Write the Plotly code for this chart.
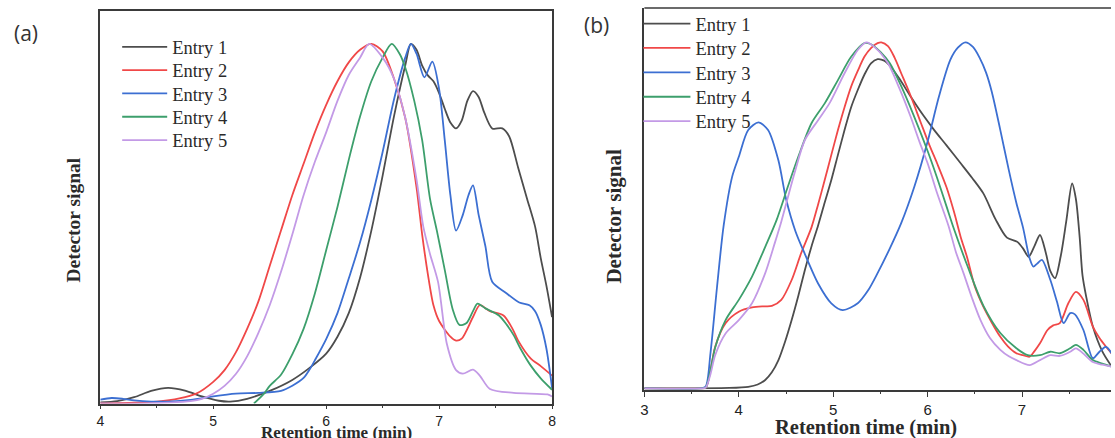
import plotly.graph_objects as go

W, H = 1115, 438

names = ["Entry 1", "Entry 2", "Entry 3", "Entry 4", "Entry 5"]
colors = ["#4d4d4d", "#f04848", "#3c6fd2", "#3d9f6c", "#c39ae6"]

# ---------------- panel (a) ----------------
a1_t = [4.0, 4.15, 4.3, 4.45, 4.6, 4.75, 4.9, 5.05, 5.15, 5.3, 5.5, 5.7, 5.85, 6.0, 6.1, 6.2, 6.3, 6.4, 6.5, 6.6, 6.7,
        6.75, 6.8, 6.85, 6.9, 6.95, 7.0, 7.05, 7.1, 7.15, 7.2, 7.25, 7.3, 7.35, 7.4, 7.47, 7.56, 7.62, 7.7, 7.78, 7.85,
        7.9, 7.95, 8.0]
a1_v = [0.3, 0.6, 1.6, 3.2, 4.0, 3.3, 1.8, 0.7, 0.5, 1.2, 3.2, 6.0, 9.0, 12.7, 17, 23, 32, 44, 58, 73, 86,
        91.5, 90, 86, 83.5, 82, 79, 75, 71.5, 70, 72, 77, 79.5, 78, 74, 70, 70, 68, 60, 52, 45,
        37, 30, 22]

a2_t = [4.0, 4.3, 4.5, 4.7, 4.85, 5.0, 5.1, 5.2, 5.3, 5.4, 5.5, 5.6, 5.7, 5.8, 5.9, 6.0, 6.1, 6.2, 6.3, 6.4, 6.5, 6.6,
        6.7, 6.8, 6.85, 6.9, 6.95, 7.0, 7.1, 7.15, 7.2, 7.3, 7.36, 7.45, 7.57, 7.65, 7.7, 7.81, 7.9, 8.0]
a2_v = [0, 0.2, 0.5, 1.3, 2.5, 5.5, 8.5, 13, 19, 26, 35, 44, 53, 61, 69, 76, 82, 86.8, 90, 91.5, 89.6, 82.7,
        72.7, 55, 43, 33, 25, 21, 17, 16, 16.5, 22, 25, 23.5, 22.4, 19, 16, 11.5, 9.5, 7.1]

a3_t = [4.0, 4.1, 4.2, 4.3, 4.45, 4.6, 4.8, 5.0, 5.2, 5.4, 5.6, 5.7, 5.8, 5.85, 5.9, 6.0, 6.1, 6.2, 6.3, 6.4, 6.5,
        6.6, 6.7, 6.75, 6.8, 6.87, 6.94, 7.0, 7.05, 7.1, 7.15, 7.21, 7.26, 7.3, 7.35, 7.41, 7.47, 7.59, 7.71, 7.8,
        7.85, 7.9, 7.95, 8.0]
a3_v = [1.0, 1.4, 1.2, 0.8, 0.5, 0.5, 0.9, 1.8, 2.5, 2.7, 3.2, 4.5, 6.5, 8.5, 11, 16.4, 23, 31.8, 41, 51.8, 64,
        77.3, 88, 91.5, 89, 83, 87, 80, 67, 53, 44, 48, 53, 55.5, 48, 40, 31, 28.2, 25.7, 25,
        23.5, 20, 14, 4]

a4_t = [5.36, 5.45, 5.5, 5.6, 5.7, 5.8, 5.9, 6.0, 6.1, 6.2, 6.3, 6.4, 6.5, 6.58, 6.65, 6.7, 6.78, 6.85, 6.92, 6.98,
        7.05, 7.12, 7.18, 7.24, 7.3, 7.34, 7.41, 7.53, 7.6, 7.66, 7.72, 7.81, 7.9, 8.0]
a4_v = [0, 2.5, 4.5, 7.3, 12.5, 19, 28, 39, 50, 62, 73, 82, 88, 91.5, 89, 85.5, 77, 67, 52, 44,
        34, 24, 20, 20.4, 23.5, 25.4, 24.2, 22.4, 20, 17.4, 14, 9.7, 6.4, 3.5]

a5_t = [4.0, 4.4, 4.6, 4.8, 4.9, 5.0, 5.1, 5.2, 5.3, 5.4, 5.5, 5.6, 5.7, 5.8, 5.9, 6.0, 6.1, 6.2, 6.3, 6.38, 6.5,
        6.6, 6.7, 6.8, 6.86, 6.92, 6.99, 7.07, 7.15, 7.21, 7.3, 7.36, 7.45, 7.66, 7.96, 8.0]
a5_v = [0, 0, 0.2, 0.6, 1.2, 2.5, 4.5, 7.5, 12, 18, 25, 33.5, 43, 53, 61.5, 69, 77, 83.6, 88, 91.5, 88,
        82.7, 72.7, 57, 45, 38, 31, 15, 8.5, 7.6, 8.6, 7.1, 3.7, 2.7, 2.3, 1.8]

# ---------------- panel (b) ----------------
b1_t = [3.0, 3.5, 3.9, 4.1, 4.2, 4.28, 4.35, 4.42, 4.49, 4.56, 4.63, 4.7, 4.77, 4.84, 4.91, 4.98, 5.05, 5.12, 5.19,
        5.26, 5.33, 5.4, 5.47, 5.54, 5.61, 5.7, 5.82, 5.95, 6.07, 6.2, 6.35, 6.47, 6.59, 6.72, 6.84, 6.95, 7.01, 7.07,
        7.13, 7.19, 7.25, 7.3, 7.35, 7.41, 7.47, 7.53, 7.57, 7.61, 7.64, 7.68, 7.75, 7.85, 7.95]
b1_v = [0.3, 0.3, 0.4, 0.7, 1.3, 2.5, 4.5, 7.7, 12.5, 18.2, 24.5, 31.3, 37.5, 43, 49, 54.9, 61.5, 68, 74,
        78.5, 82.5, 85.5, 86.6, 86.2, 84.6, 81.5, 76.8, 72, 68, 64, 59.3, 55.5, 51.4, 44.6, 39.8, 38.7, 37, 34.8,
        37.5, 40.5, 36, 31, 29.2, 35, 44.4, 54, 50, 40, 30, 24.3, 16.5, 10, 6]

b2_t = [3.0, 3.6, 3.65, 3.7, 3.75, 3.86, 4.0, 4.14, 4.25, 4.35, 4.45, 4.56, 4.66, 4.77, 4.84, 4.91, 4.98, 5.05, 5.12,
        5.19, 5.26, 5.33, 5.4, 5.47, 5.51, 5.58, 5.65, 5.72, 5.82, 5.93, 6.02, 6.1, 6.2, 6.28, 6.35, 6.42, 6.5, 6.59,
        6.68, 6.77, 6.85, 6.94, 7.01, 7.08, 7.13, 7.19, 7.27, 7.33, 7.4, 7.49, 7.57, 7.65, 7.75, 7.82, 7.89, 7.95]
b2_v = [0.3, 0.3, 0.5, 5, 11.2, 17.4, 20.4, 21.5, 21.8, 21.9, 23.5, 28.7, 35.7, 42.5, 48.5, 54.9, 61.5, 68, 74,
        79.4, 83.5, 87.2, 89.5, 90.8, 91, 90, 87, 82.9, 77, 69.8, 64, 59.3, 53, 46.5, 40, 34.5, 27, 21.7,
        17.5, 13.8, 11.3, 9.5, 9, 8.6, 10, 12.1, 15.6, 16.8, 17.4, 22.6, 25.6, 23.5, 16.5, 13.5, 11.2, 9.4]

b3_t = [3.0, 3.6, 3.65, 3.7, 3.77, 3.84, 3.93, 4.0, 4.1, 4.21, 4.31, 4.42, 4.5, 4.6, 4.7, 4.84, 4.98, 5.1, 5.26,
        5.37, 5.47, 5.6, 5.72, 5.86, 6.0, 6.12, 6.24, 6.32, 6.4, 6.48, 6.55, 6.62, 6.68, 6.77, 6.86, 6.94, 7.01, 7.08,
        7.12, 7.16, 7.21, 7.3, 7.37, 7.44, 7.51, 7.56, 7.65, 7.75, 7.82, 7.89, 7.95]
b3_v = [0.3, 0.3, 0.8, 9.5, 27, 43, 55.8, 61, 68, 70, 68, 60, 50, 41.5, 35.5, 27.8, 22.6, 20.8, 22.6,
        26, 30.5, 37, 43.6, 53.2, 65, 76.8, 86.4, 89.6, 91, 89.8, 87, 83, 78, 68, 57.5, 48.9, 42.5, 34.4,
        32.2, 33, 34, 28.7, 23, 17.4, 20, 19.7, 15.6, 8.2, 9.9, 11.2, 9.4]

b4_t = [3.0, 3.6, 3.65, 3.7, 3.75, 3.86, 4.0, 4.14, 4.28, 4.4, 4.52, 4.63, 4.77, 4.91, 5.05, 5.19, 5.33, 5.4, 5.5,
        5.6, 5.72, 5.85, 6.0, 6.1, 6.2, 6.28, 6.42, 6.59, 6.77, 6.94, 7.06, 7.19, 7.3, 7.4, 7.51, 7.57, 7.65, 7.75,
        7.85, 7.95]
b4_v = [0.3, 0.3, 0.5, 5, 11, 18.2, 23.5, 29.6, 37.4, 44.4, 53.2, 61, 69.8, 75, 81.1, 87.2, 90.8, 90.5, 88.5,
        85.5, 79.5, 72, 62.5, 55.5, 48, 42, 32.5, 22, 14.8, 10.8, 9.0, 9, 9.9, 9.5, 10.8, 11.7, 10.4, 7.7,
        6.8, 6]

b5_t = [3.0, 3.6, 3.65, 3.7, 3.75, 3.86, 4.0, 4.14, 4.28, 4.38, 4.45, 4.59, 4.7, 4.84, 4.96, 5.12, 5.26, 5.35, 5.45,
        5.58, 5.7, 5.82, 5.92, 6.0, 6.1, 6.22, 6.3, 6.38, 6.47, 6.56, 6.66, 6.77, 6.86, 6.94, 7.08, 7.19, 7.3, 7.4,
        7.51, 7.57, 7.65, 7.75, 7.85, 7.95]
b5_v = [0.3, 0.3, 0.5, 4, 9, 14.7, 18.2, 22.6, 30.5, 38.3, 44, 56.7, 65.4, 70.6, 75, 82.9, 89, 91, 89.5,
        85.5, 79, 71.5, 64.5, 59.3, 51.5, 43, 36, 30.5, 24, 18.2, 13.5, 10.4, 8.7, 7.7, 6.4, 7.7, 9, 8.8,
        9.9, 10.8, 9.4, 7.2, 6.5, 6]

panel_a = [(a1_t, a1_v), (a2_t, a2_v), (a3_t, a3_v), (a4_t, a4_v), (a5_t, a5_v)]
panel_b = [(b1_t, b1_v), (b2_t, b2_v), (b3_t, b3_v), (b4_t, b4_v), (b5_t, b5_v)]


def px_x(p):
    return p / W


def px_y(p):
    return 1 - p / H


serif = "Liberation Serif, Times New Roman, serif"

# legend rows (pixel centres) for each panel
leg_a_rows = [48.3, 71.6, 94.9, 118.2, 141.5]
leg_b_rows = [25.0, 49.4, 73.8, 98.2, 122.6]

fig = go.Figure()
legend_layouts = {}
k = 0
for panel, (traces, xa, ya, rows, lx, iw) in enumerate([
        (panel_a, "x", "y", leg_a_rows, 114, 45),
        (panel_b, "x2", "y2", leg_b_rows, 639, 47)]):
    for i, (t, v) in enumerate(traces):
        k += 1
        lname = "legend" if k == 1 else f"legend{k}"
        fig.add_trace(go.Scatter(x=t, y=v, mode="lines", name=names[i], xaxis=xa, yaxis=ya,
                                 line=dict(color=colors[i], width=1.8, shape="spline", smoothing=0.8),
                                 legend=lname))
        legend_layouts[lname] = dict(x=px_x(lx), y=px_y(rows[i] - 20), xanchor="left", yanchor="top",
                                     bgcolor="rgba(0,0,0,0)", borderwidth=0, itemwidth=iw,
                                     font=dict(family=serif, size=18.5, color="#2a2a2a"))

axis_col = "#3a3a3a"


def xaxis_style(fs, mirror, tl):
    return dict(showline=True, linecolor=axis_col, linewidth=1.5, mirror=mirror, ticks="outside",
                ticklen=tl, tickwidth=1.3, tickcolor=axis_col, dtick=1,
                tickfont=dict(family="Liberation Sans, Arial, sans-serif", size=fs, color="#222222"),
                showgrid=False, zeroline=False,
                minor=dict(ticks="outside", ticklen=3, tickwidth=1.2, tickcolor=axis_col, dtick=0.5,
                           showgrid=False))


fig.update_layout(
    width=W, height=H, margin=dict(l=0, r=0, t=0, b=0),
    paper_bgcolor="white", plot_bgcolor="white",
    xaxis=dict(domain=[px_x(97), px_x(552)], range=[4, 8], anchor="y", **xaxis_style(14, True, 4)),
    yaxis=dict(domain=[px_y(403.5), px_y(10.5)], range=[0, 100], anchor="x", showline=True, linecolor=axis_col,
               linewidth=1.5, mirror=True, showticklabels=False, ticks="", showgrid=False, zeroline=False),
    xaxis2=dict(domain=[px_x(645), 1.0], range=[3, 3 + 470 / 95.1], anchor="y2", **xaxis_style(15, False, 6)),
    yaxis2=dict(domain=[px_y(389.5), px_y(8)], range=[0, 100], anchor="x2", showline=True, linecolor=axis_col,
                linewidth=1.5, mirror=False, showticklabels=False, ticks="", showgrid=False, zeroline=False),
    showlegend=True,
    **legend_layouts,
)

# top border for panel b (its right edge is cut off in the original)
fig.add_shape(type="line", xref="x2 domain", yref="y2 domain", x0=0, x1=1, y0=1, y1=1,
              line=dict(color=axis_col, width=1.5))

ann = [
    dict(text="<b>Retention time (min)</b>", x=335, y=432, size=17, angle=0),
    dict(text="<b>Detector signal</b>", x=69, y=220, size=19.5, angle=-90),
    dict(text="<b>Retention time (min)</b>", x=868, y=427, size=20.5, angle=0),
    dict(text="<b>Detector signal</b>", x=614, y=217, size=21, angle=-90),
]
for a in ann:
    fig.add_annotation(text=a["text"], x=px_x(a["x"]), y=px_y(a["y"]), xref="paper", yref="paper",
                       showarrow=False, textangle=a["angle"], xanchor="center", yanchor="middle",
                       font=dict(family=serif, size=a["size"], color="#2a2a2a"))

for lab, x, y in [("(a)", 22, 33), ("(b)", 597, 25)]:
    fig.add_annotation(text=lab, x=px_x(x), y=px_y(y), xref="paper", yref="paper", showarrow=False,
                       xanchor="center", yanchor="middle",
                       font=dict(family="Open Sans, Noto Sans, sans-serif", size=21, color="#333333"))

fig.write_html("out.html", config={"displayModeBar": False},
               post_script="document.body.style.margin='0';document.body.style.overflow='hidden';")
